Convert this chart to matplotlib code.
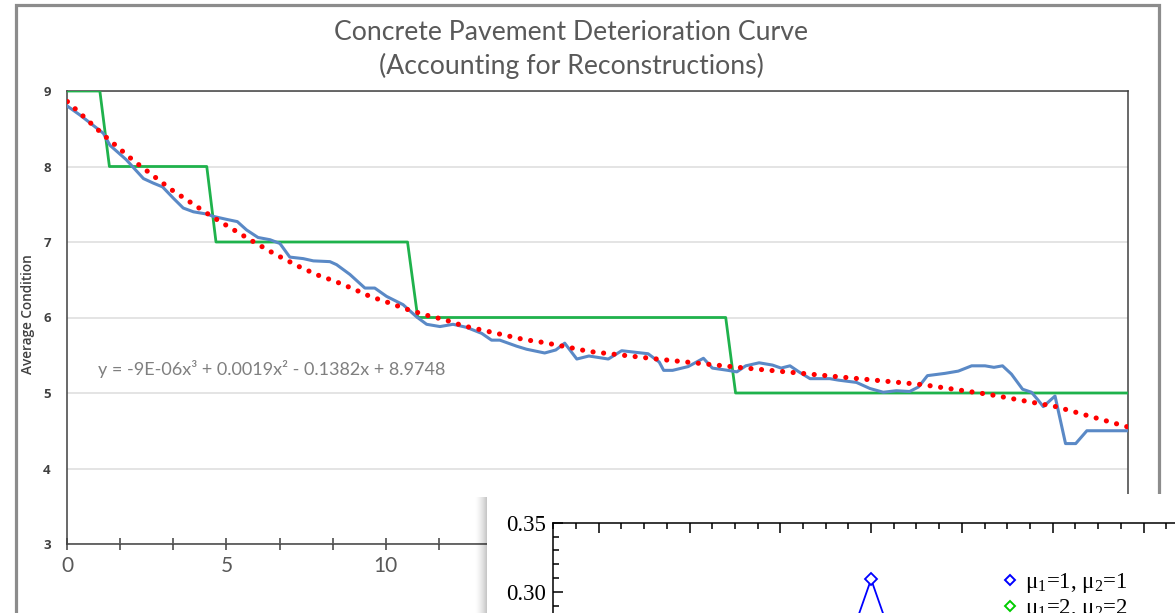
import numpy as np
import matplotlib
matplotlib.use("Agg")
import matplotlib.pyplot as plt
from matplotlib.patches import Rectangle
from matplotlib.ticker import MultipleLocator, FixedLocator, FormatStrFormatter
from matplotlib.lines import Line2D

plt.rcParams['mathtext.fontset'] = 'custom'
plt.rcParams['mathtext.rm'] = 'Liberation Serif'
plt.rcParams['mathtext.it'] = 'Liberation Serif:italic'

W, H = 1175, 613   # output size in pixels


def fx(px):
    return px / W


def fy(py):
    return 1 - py / H


# ---- main chart data ----
title_lines = ["Concrete Pavement Deterioration Curve", "(Accounting for Reconstructions)"]
y_label = "Average Condition"
equation = "y = -9E-06x\u00b3 + 0.0019x\u00b2 - 0.1382x + 8.9748"
x_labels = ["0", "5", "10", "15", "20", "25"]   # from 15 on hidden under the second picture

years = [0.00, 0.40, 1.13, 1.34, 1.85, 2.39, 2.70, 2.99, 3.33, 3.64, 3.96, 4.38, 4.58,
         5.00, 5.34, 5.63, 5.99, 6.37, 6.68, 6.99, 7.41, 7.73, 8.25, 8.46, 8.88, 9.35,
         9.66, 10.03, 10.55, 10.97, 11.29, 11.71, 12.12, 12.54, 13.02, 13.33, 13.59,
         14.12, 14.43, 15.00, 15.35, 15.63, 16.01, 16.39, 17.00, 17.42, 18.25, 18.60,
         18.74, 19.02, 19.51, 19.99, 20.27, 20.76, 21.04, 21.32, 21.74, 22.16, 22.43,
         22.71, 22.99, 23.34, 23.96, 24.24, 24.80, 25.22, 25.64, 26.05, 26.47, 26.75,
         27.03, 27.58, 28.00, 28.42, 28.84, 29.12, 29.39, 29.67, 30.02, 30.30, 30.50,
         30.67, 31.04, 31.37, 31.69, 32.04, 33.33]
avg_condition = [8.80, 8.68, 8.44, 8.28, 8.09, 7.84, 7.78, 7.73, 7.58, 7.45, 7.40, 7.37, 7.34,
                 7.30, 7.27, 7.16, 7.06, 7.03, 6.98, 6.80, 6.78, 6.75, 6.74, 6.70, 6.57, 6.39,
                 6.39, 6.28, 6.17, 6.01, 5.91, 5.88, 5.91, 5.87, 5.79, 5.70, 5.70,
                 5.62, 5.58, 5.53, 5.57, 5.66, 5.45, 5.49, 5.45, 5.56, 5.52, 5.41,
                 5.30, 5.30, 5.35, 5.46, 5.33, 5.30, 5.28, 5.36, 5.40, 5.37, 5.33,
                 5.36, 5.28, 5.19, 5.19, 5.17, 5.14, 5.06, 5.01, 5.03, 5.02, 5.08,
                 5.23, 5.26, 5.29, 5.36, 5.36, 5.34, 5.36, 5.25, 5.05, 5.01, 4.91,
                 4.82, 4.96, 4.33, 4.33, 4.50, 4.50]

trend_x = [0.00, 1.13, 2.07, 3.28, 4.53, 5.74, 6.52, 7.30, 7.88, 8.41, 8.98, 9.51, 10.07,
           10.66, 11.29, 11.86, 12.44, 13.07, 13.70, 14.33, 14.95, 15.58, 16.40, 18.53,
           21.32, 24.10, 26.89, 28.98, 31.06, 33.33]
trend_y = [8.86, 8.42, 8.08, 7.69, 7.34, 7.03, 6.84, 6.67, 6.56, 6.48, 6.38, 6.28, 6.20,
           6.11, 6.03, 5.97, 5.89, 5.83, 5.77, 5.71, 5.67, 5.62, 5.55, 5.45,
           5.33, 5.22, 5.11, 4.98, 4.82, 4.55]

recon_x = [0.00, 1.02, 1.32, 4.38, 4.67, 10.69, 11.01, 20.69, 21.00, 33.33]
recon_y = [9, 9, 8, 8, 7, 7, 6, 6, 5, 5]

# ---- overlapping second chart (only its top left part is visible) ----
k_vals = [-1, 0, 1]
p_mu11 = [0.215, 0.309, 0.215]
p_mu22 = [0.179, 0.207, 0.179]
inset_labels = ["\u03bc$_1$=1, \u03bc$_2$=1", "\u03bc$_1$=2, \u03bc$_2$=2"]

fig = plt.figure(figsize=(W / 100, H / 100), dpi=100)

# outer grey frame of the screenshot
fig.add_artist(Rectangle((fx(16), fy(700)), fx(1159) - fx(16), fy(5) - fy(700),
                         transform=fig.transFigure, fill=False, edgecolor='#8c8c8c',
                         linewidth=2.3, zorder=0.5))

ax = fig.add_axes([fx(67.4), fy(544), (1128 - 67.4) / W, (544 - 91) / H])
ax.set_zorder(0.6)
ax.plot(recon_x, recon_y, color='#1fb24c', linewidth=2.0, zorder=3)
ax.plot(years, avg_condition, color='#5a89c6', linewidth=2.2, zorder=4)
ax.plot(trend_x, trend_y, color='#ff0000', linewidth=3.7, linestyle=(0, (0.01, 2.05)),
        dash_capstyle='round', zorder=5)

ax.set_xlim(0, 100 / 3)
ax.set_ylim(3, 9)
xt = np.arange(0, 34, 5 / 3)
ax.xaxis.set_major_locator(FixedLocator(xt))
tick_text = [""] * len(xt)
for i, lab in enumerate(x_labels):
    tick_text[3 * i] = lab
ax.set_xticklabels(tick_text, fontfamily='Lato', fontsize=15, color='#595959')
ax.xaxis.set_minor_locator(MultipleLocator(10 / 3))
ax.tick_params(axis='x', which='major', direction='inout', length=8, width=1.1,
               color='#404040', pad=5)
ax.tick_params(axis='x', which='minor', length=0)
ax.set_yticks(range(3, 10))
ax.set_yticklabels([str(v) for v in range(3, 10)], fontfamily='Open Sans',
                   fontweight='bold', fontsize=9.5, color='#404040')
ax.tick_params(axis='y', length=0, pad=12)
ax.grid(which='minor', axis='x', color='#dcdcdc', linewidth=1.1)
ax.grid(which='major', axis='y', color='#dcdcdc', linewidth=1.1)
for s in ax.spines.values():
    s.set_color('#404040')
    s.set_linewidth(1.1)
ax.set_axisbelow(True)

ax.text(6.43, 5.32, equation, fontfamily='Lato', fontsize=13,
        color='#7f7f7f', ha='center', va='center')

fig.text(fx(28), fy(314), y_label, rotation=90, fontfamily='Open Sans',
         fontweight='semibold', fontsize=9.8, color='#404040', ha='center', va='center')

fig.text(fx(571), fy(32), title_lines[0], fontfamily='Lato', fontsize=19.2,
         color='#595959', ha='center', va='center')
fig.text(fx(571), fy(66), title_lines[1], fontfamily='Lato', fontsize=19.2,
         color='#595959', ha='center', va='center')

# white panel of the second screenshot, with a soft shadow on its left edge
for i in range(12):
    fig.add_artist(Rectangle((fx(486 - i), fy(700)), 1 / W, fy(497) - fy(700),
                             transform=fig.transFigure, facecolor='black',
                             edgecolor='none', alpha=0.22 * (1 - i / 12) ** 1.6, zorder=1))
fig.add_artist(Rectangle((fx(487), fy(700)), fx(1200) - fx(487), fy(494) - fy(700),
                         transform=fig.transFigure, facecolor='white',
                         edgecolor='none', zorder=1.1))

# 0.05 on the y axis spans 69 px, one unit on the x axis spans 45.4 px
ax2 = fig.add_axes([fx(553.3), fy(522.7 + 483), 14 * 45.4 / W, 483 / H])
ax2.set_zorder(2)
ax2.patch.set_alpha(0)
ax2.plot(k_vals, p_mu11, color='#0000ff', linewidth=1.3, marker='D', markersize=6,
         markerfacecolor='white', markeredgecolor='#0000ff', markeredgewidth=1.3)
ax2.plot(k_vals, p_mu22, color='#00cc00', linewidth=1.3, marker='D', markersize=6,
         markerfacecolor='white', markeredgecolor='#00cc00', markeredgewidth=1.3)
ax2.set_xlim(-7, 7)
ax2.set_ylim(0, 0.35)
ax2.xaxis.set_major_locator(MultipleLocator(2))
ax2.xaxis.set_minor_locator(MultipleLocator(0.5))
ax2.yaxis.set_major_locator(MultipleLocator(0.05))
ax2.yaxis.set_minor_locator(MultipleLocator(0.01))
ax2.yaxis.set_major_formatter(FormatStrFormatter('%.2f'))
ax2.tick_params(which='both', direction='in', top=True, right=True, width=1.1,
                color='black', labelsize=16.5, pad=5)
ax2.tick_params(which='major', length=7.5)
ax2.tick_params(which='minor', length=4)
for lab in ax2.get_yticklabels() + ax2.get_xticklabels():
    lab.set_fontfamily('Liberation Serif')
for s in ax2.spines.values():
    s.set_linewidth(1.1)
handles = [Line2D([], [], linestyle='none', marker='D', markersize=5.5,
                  markerfacecolor='white', markeredgecolor=c, markeredgewidth=1.4)
           for c in ['#0000ff', '#00cc00']]
ax2.legend(handles, inset_labels, loc='upper left', bbox_to_anchor=(fx(980), fy(550)),
           bbox_transform=fig.transFigure, frameon=False, handlelength=0.8,
           handletextpad=0.25, labelspacing=0.12,
           prop={'family': 'Liberation Serif', 'size': 16.5})

fig.savefig('out.png', dpi=100)
